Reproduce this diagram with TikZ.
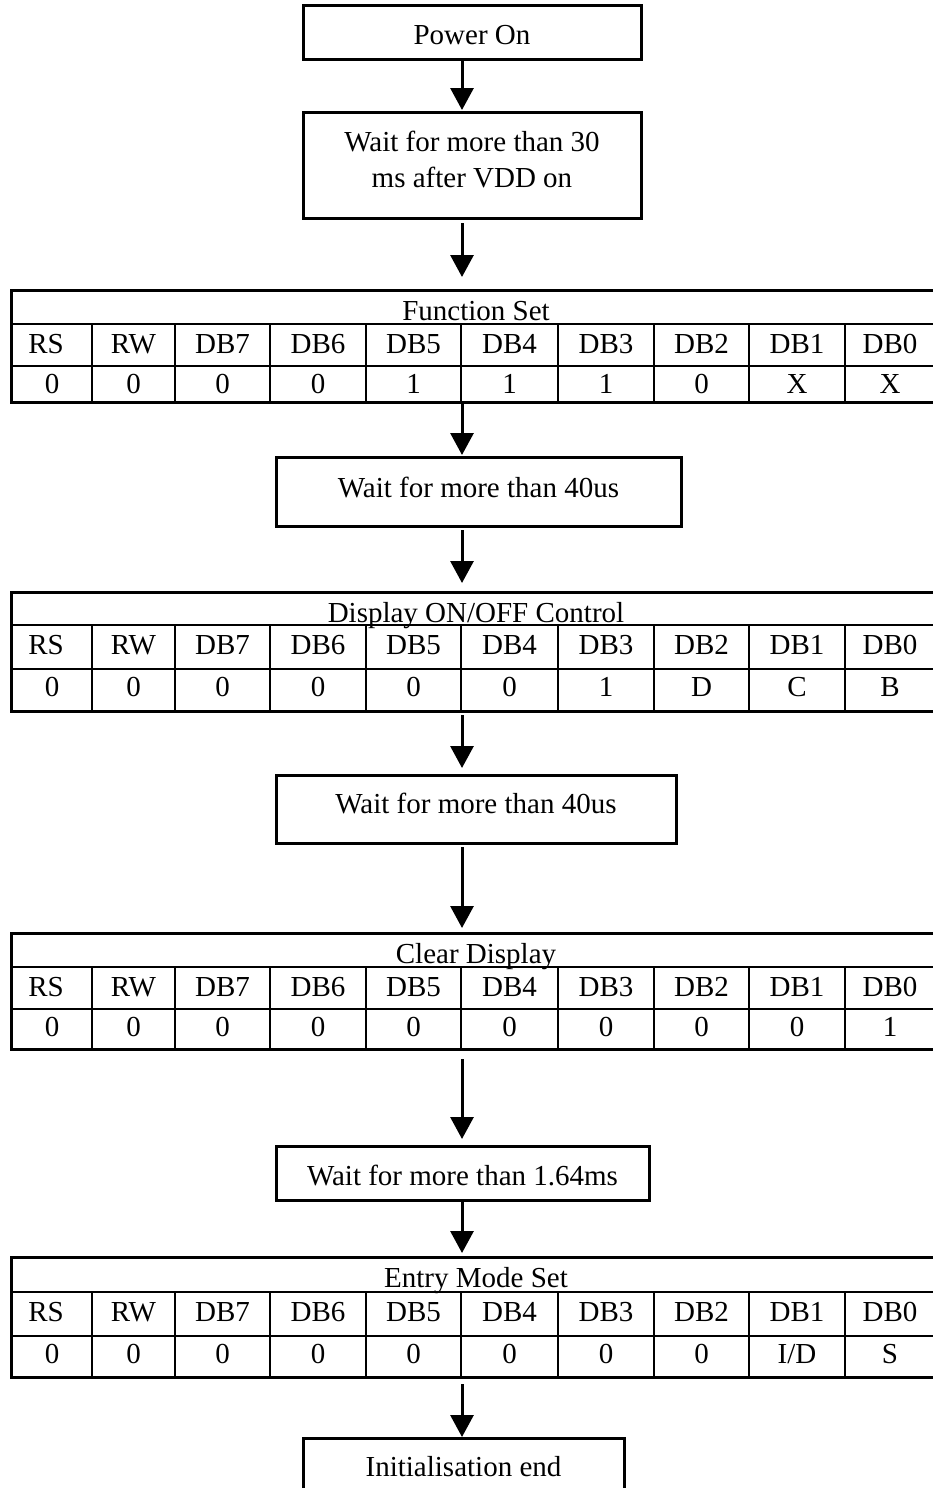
\documentclass[tikz,border=0pt]{standalone}
\usepackage{fontspec}
\setmainfont{Liberation Serif}
\usetikzlibrary{arrows.meta,calc}
\newcommand\regtable[7]{%
  \pgfmathsetmacro\regh{#5-#2}%
  \node[regbox, minimum height=\regh pt] (#1) at (11,#2) {};
  \draw[gridline] (11,#3) -- (935,#3) (11,#4) -- (935,#4);
  \foreach \cx in {92,175,270,366,461,558,654,749,845} \draw[gridline] (\cx,#3) -- (\cx,#5);
  \node[cell] (#1-title) at (476,#2+30) {#6};
  \foreach \lab/\cx [count=\i] in {RS/46,RW/133.5,DB7/222.5,DB6/318,DB5/413.5,DB4/509.5,DB3/606,DB2/701.5,DB1/797,DB0/890}
    \node[cell] (#1-h\i) at (\cx,#3+29) {\lab};
  \foreach \val [count=\i] in {#7} {
    \pgfmathsetmacro\cx{{52,133.5,222.5,318,413.5,509.5,606,701.5,797,890}[\i-1]}
    \node[cell] (#1-v\i) at (\cx,#4+27) {\val};
  }
}
\begin{document}
\begin{tikzpicture}[x=1pt,y=-1pt,
  every node/.style={font=\fontsize{29pt}{33pt}\selectfont, inner sep=0pt, outer sep=0pt},
  stepbox/.style={draw, line width=3pt, anchor=north west, text height=20pt, text depth=4pt},
  regbox/.style={draw, line width=3pt, anchor=north west, minimum width=924pt},
  gridline/.style={line width=2pt},
  flow/.style={line width=3pt, -{Triangle[length=22pt,width=23pt]}},
  cell/.style={anchor=base}]
\useasboundingbox (0,0) rectangle (932,1488);
\coordinate (ax) at (462,0);

% step boxes
\node[stepbox, minimum width=338pt, minimum height=54pt, text height=24pt, text depth=0pt] (pwr) at (303,6) {Power On};
\node[draw, line width=3pt, anchor=north west, minimum width=338pt, minimum height=106pt,
      align=center, text depth=12pt] (w30) at (303,112) {Wait for more than 30\\[3pt]ms after VDD on};
\node[stepbox, minimum width=405pt, minimum height=69pt, text depth=9pt] (w40a) at (276,457) {Wait for more than 40us};
\node[stepbox, minimum width=400pt, minimum height=68pt, text depth=12pt] (w40b) at (276,775) {Wait for more than 40us};
\node[stepbox, minimum width=373pt, minimum height=54pt, text height=24pt, text depth=0pt] (w164) at (276,1146) {Wait for more than 1.64ms};
\node[stepbox, minimum width=321pt, minimum height=60pt] (wend) at (303,1438) {Initialisation end};

% register tables
\regtable{t1}{290}{324}{366}{402}{Function Set}{0,0,0,0,1,1,1,0,X,X}
\regtable{t2}{592}{625}{669}{711}{Display ON/OFF Control}{0,0,0,0,0,0,1,D,C,B}
\regtable{t3}{933}{967}{1009}{1049}{Clear Display}{0,0,0,0,0,0,0,0,0,1}
\regtable{t4}{1257}{1292}{1336}{1377}{Entry Mode Set}{0,0,0,0,0,0,0,0,I/D,S}

% connectors
\draw[flow, shorten >=2pt] (pwr.south -| ax) -- (w30.north -| ax);
\draw[flow, shorten <=5pt, shorten >=13pt] (w30.south -| ax) -- (t1.north -| ax);
\draw[flow, shorten >=2pt] (t1.south -| ax) -- (w40a.north -| ax);
\draw[flow, shorten <=4pt, shorten >=9pt] (w40a.south -| ax) -- (t2.north -| ax);
\draw[flow, shorten <=4pt, shorten >=7pt] (t2.south -| ax) -- (w40b.north -| ax);
\draw[flow, shorten <=4pt, shorten >=5pt] (w40b.south -| ax) -- (t3.north -| ax);
\draw[flow, shorten <=10pt, shorten >=7pt] (t3.south -| ax) -- (w164.north -| ax);
\draw[flow, shorten >=4pt] (w164.south -| ax) -- (t4.north -| ax);
\draw[flow, shorten <=7pt, shorten >=1pt] (t4.south -| ax) -- (wend.north -| ax);
\end{tikzpicture}
\end{document}
